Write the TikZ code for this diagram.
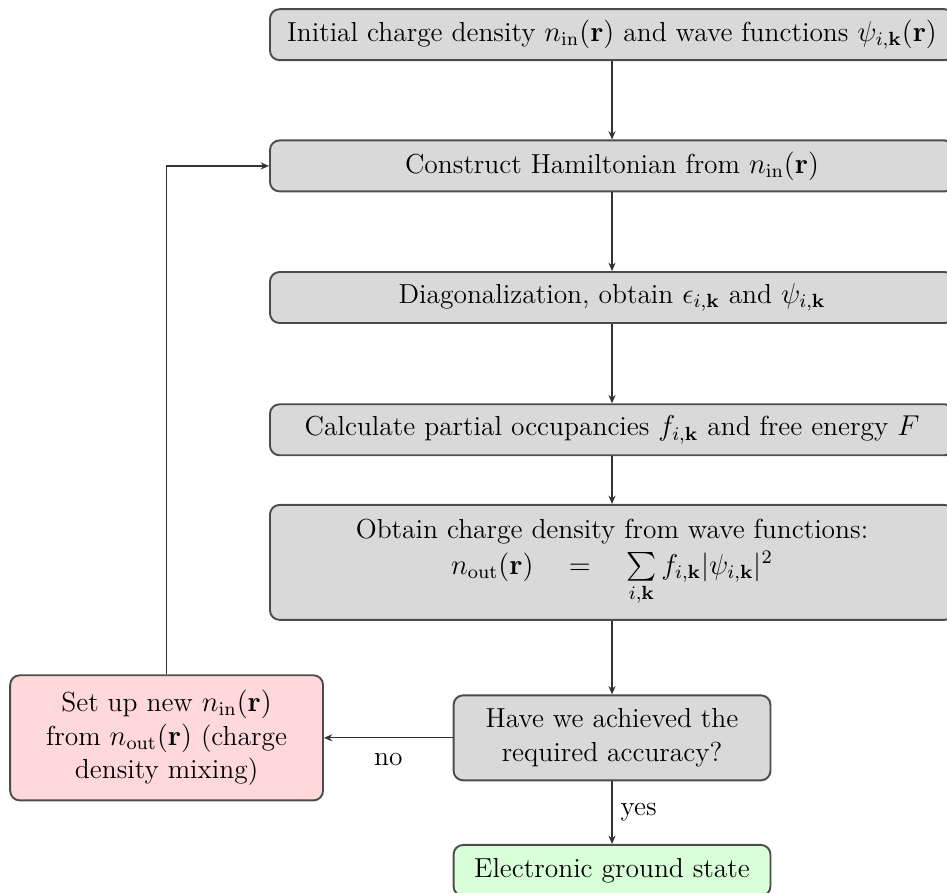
\documentclass[tikz,border=0pt]{standalone}
\usepackage{amsmath}
\usetikzlibrary{arrows.meta}
\tikzset{
	stepbox/.style={draw=black!70, line width=0.8pt, rounded corners=4pt, fill=black!15, minimum width=10.06cm, minimum height=0.75cm, align=center, font=\fontsize{11.5}{14}\selectfont},
	askbox/.style={stepbox, minimum width=4.66cm, minimum height=1.25cm},
	mixbox/.style={stepbox, fill=red!15, minimum width=4.6cm, minimum height=1.84cm},
	donebox/.style={stepbox, fill=green!15, minimum width=4.66cm},
	link/.style={draw=black!80, line width=0.5pt, -{Stealth[length=3.5pt,width=3pt]}},
}

\begin{document}
\begin{tikzpicture}
		%%%%% START %%%%%
		
		\useasboundingbox (0, 0) rectangle (13.926, -13.118);
		
		\node[stepbox] (init) at (9.0, -0.51) {Initial charge density $n_{\mathrm{in}}(\mathbf{r})$ and wave functions $\psi_{i,\mathbf{k}}(\mathbf{r})$};
		\node[stepbox] (ham) at (9.0, -2.44) {Construct Hamiltonian from $n_{\mathrm{in}}(\mathbf{r})$};
		\node[stepbox] (diag) at (9.0, -4.375) {Diagonalization, obtain $\epsilon_{i,\mathbf{k}}$ and $\psi_{i,\mathbf{k}}$};
		\node[stepbox] (occ) at (9.0, -6.32) {Calculate partial occupancies $f_{i,\mathbf{k}}$ and free energy $F$};
		\node[stepbox, minimum height=1.69cm] (dens) at (9.0, -8.27) {Obtain charge density from wave functions:\\[1pt]
			$n_{\mathrm{out}}(\mathbf{r}) \quad=\quad \sum\limits_{i,\mathbf{k}} f_{i,\mathbf{k}}|\psi_{i,\mathbf{k}}|^2$};
		
		\node[askbox] (ask) at (9.0, -10.85) {Have we achieved the\\ required accuracy?};
		\node[mixbox] (mix) at (2.45, -10.85) {Set up new $n_{\mathrm{in}}(\mathbf{r})$\\ from $n_{\mathrm{out}}(\mathbf{r})$ (charge\\ density mixing)};
		\node[donebox] (done) at (9.0, -12.8) {Electronic ground state};
		
		% main loop
		\draw[link] (init) -- (ham);
		\draw[link] (ham) -- (diag);
		\draw[link] (diag) -- (occ);
		\draw[link] (occ) -- (dens);
		\draw[link] (dens) -- (ask);
		\draw[link] (ask) -- node[below=3pt, font=\fontsize{11.5}{14}\selectfont] {no} (mix);
		\draw[link] (ask) -- node[right, font=\fontsize{11.5}{14}\selectfont] {yes} (done);
		\draw[link] (mix.north) |- (ham.west);
		
		%%%%% END %%%%%
	\end{tikzpicture}
\end{document}
